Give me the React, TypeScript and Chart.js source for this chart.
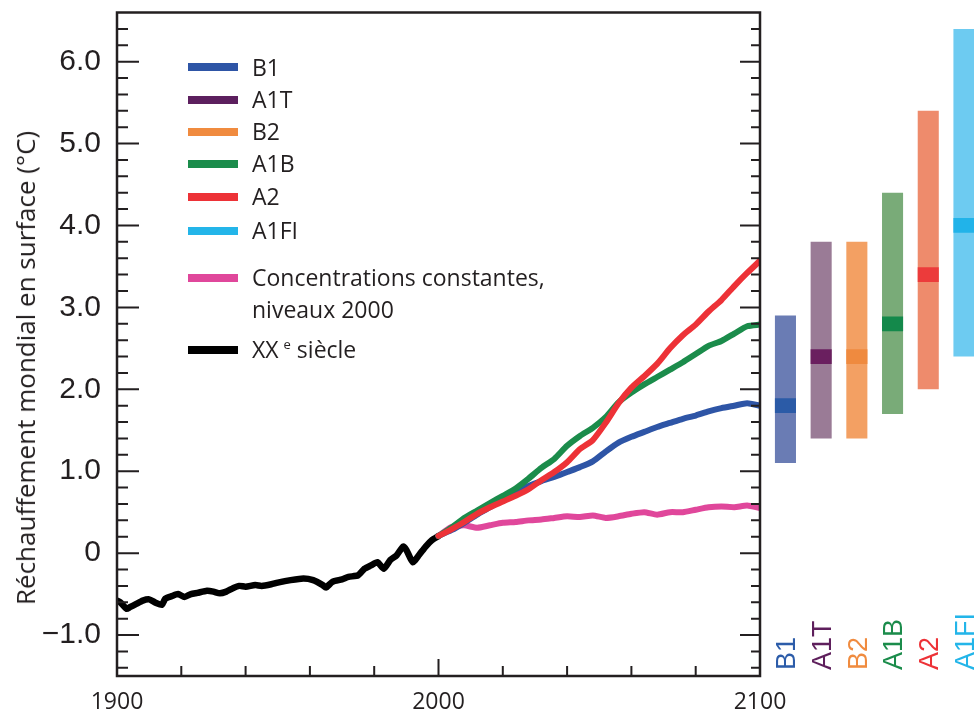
import React, { useEffect, useRef } from "react";
import { Chart, registerables } from "chart.js";

Chart.register(...registerables);

// ---------- data ----------
const histYears = [1900, 1901, 1903, 1904, 1906, 1908, 1910, 1912, 1914, 1915, 1917, 1919, 1921, 1923, 1925, 1928, 1930, 1932, 1934, 1936, 1938, 1940, 1943, 1945, 1948, 1950, 1954, 1958, 1961, 1964, 1965, 1967, 1970, 1972, 1975, 1977, 1979, 1981, 1983, 1985, 1987, 1989, 1990, 1992, 1994, 1996, 1998, 2000];
const histValues = [-0.58, -0.6, -0.68, -0.66, -0.62, -0.58, -0.565, -0.605, -0.63, -0.555, -0.525, -0.5, -0.535, -0.5, -0.485, -0.46, -0.47, -0.49, -0.47, -0.43, -0.4, -0.41, -0.39, -0.4, -0.38, -0.36, -0.33, -0.31, -0.33, -0.39, -0.42, -0.35, -0.32, -0.29, -0.27, -0.19, -0.15, -0.11, -0.19, -0.085, -0.025, 0.08, 0.04, -0.11, -0.02, 0.08, 0.16, 0.21];

const projYears = [2000, 2004, 2008, 2012, 2016, 2020, 2024, 2028, 2032, 2036, 2040, 2044, 2048, 2052, 2056, 2060, 2064, 2068, 2072, 2076, 2080, 2084, 2088, 2092, 2096, 2100];
const a2Values = [0.21, 0.29, 0.38, 0.48, 0.56, 0.63, 0.7, 0.78, 0.89, 0.99, 1.11, 1.27, 1.38, 1.59, 1.83, 2.02, 2.16, 2.31, 2.5, 2.66, 2.79, 2.95, 3.09, 3.26, 3.42, 3.57];
const a1bValues = [0.21, 0.31, 0.43, 0.52, 0.61, 0.7, 0.79, 0.91, 1.04, 1.15, 1.31, 1.43, 1.53, 1.66, 1.84, 1.96, 2.06, 2.15, 2.24, 2.33, 2.43, 2.53, 2.59, 2.68, 2.77, 2.79];
const b1Values = [0.21, 0.28, 0.37, 0.47, 0.56, 0.66, 0.75, 0.82, 0.88, 0.93, 0.99, 1.05, 1.12, 1.24, 1.35, 1.42, 1.48, 1.54, 1.59, 1.64, 1.68, 1.73, 1.77, 1.8, 1.83, 1.8];
const commitValues = [0.21, 0.32, 0.34, 0.31, 0.34, 0.37, 0.38, 0.4, 0.41, 0.43, 0.45, 0.44, 0.46, 0.43, 0.45, 0.48, 0.5, 0.47, 0.5, 0.5, 0.53, 0.56, 0.57, 0.56, 0.58, 0.55];

const scenarioNames = ["B1", "A1T", "B2", "A1B", "A2", "A1FI"];
const scenarioBest = [1.8, 2.4, 2.4, 2.8, 3.4, 4.0];
const scenarioLow = [1.1, 1.4, 1.4, 1.7, 2.0, 2.4];
const scenarioHigh = [2.9, 3.8, 3.8, 4.4, 5.4, 6.4];

const yLabelValues = [-1, 0, 1, 2, 3, 4, 5, 6];
const xLabelYears = [1900, 2000, 2100];

const commitLabel = ["Concentrations constantes,", "niveaux 2000"];
const histLabel = ["XX", "e", " siècle"];
const yTitle = "Réchauffement mondial en surface (°C)";

// ---------- styles ----------
const INK = "#231f20";
const lineColors = ["#2e55a6", "#5c1f5e", "#f08b3f", "#1b8c4b", "#ed3237", "#23b5e9"];
const rangeColors = ["#6a7cb4", "#9a7b96", "#f3a063", "#79ab78", "#ee8b6c", "#6dcbf1"];
const medianColors = ["#2b5ba7", "#6a1f5f", "#ef8a3f", "#14894b", "#ec3b3b", "#21b3e9"];
const labelColors = ["#2c5ca9", "#5e1f5c", "#f08b3f", "#1b8c4b", "#ed3237", "#23b5e9"];
const COMMIT_COLOR = "#e0479b";
const HIST_COLOR = "#000000";
const MED_HALF = 0.09;

const Y_MIN = -1.5;
const Y_MAX = 6.6;

const pts = (xs: number[], ys: number[]) => xs.map((x, i) => ({ x, y: ys[i] }));

const fmtY = (v: number) => {
  if (v === 0) return "0";
  const s = Math.abs(v).toFixed(1);
  return v < 0 ? "\u2212" + s : s;
};

export default function App() {
  const mainRef = useRef<HTMLCanvasElement | null>(null);
  const barRef = useRef<HTMLCanvasElement | null>(null);

  useEffect(() => {
    if (!mainRef.current || !barRef.current) return;

    const framePlugin = {
      id: "frameTicks",
      afterDatasetsDraw(chart: any) {
        const { ctx, chartArea: a, scales } = chart;
        const x = scales.x;
        const y = scales.y;
        ctx.save();
        ctx.strokeStyle = INK;
        ctx.lineWidth = 2;
        ctx.beginPath();
        y.ticks.forEach((t: any) => {
          const v = t.value;
          if (Math.abs(v * 5 - Math.round(v * 5)) > 1e-6) return;
          const py = y.getPixelForValue(v);
          if (py <= a.top + 1 || py >= a.bottom - 1) return;
          const major = Math.abs(v - Math.round(v)) < 1e-6;
          ctx.moveTo(a.left, py);
          ctx.lineTo(a.left + (major ? 22 : 11), py);
          ctx.moveTo(a.right, py);
          ctx.lineTo(a.right - (major ? 20 : 9), py);
        });
        x.ticks.forEach((t: any) => {
          const px = x.getPixelForValue(t.value);
          if (px <= a.left + 1 || px >= a.right - 1) return;
          const major = Math.round(t.value) % 100 === 0;
          ctx.moveTo(px, a.bottom);
          ctx.lineTo(px, a.bottom - (major ? 17 : 10));
        });
        ctx.stroke();
        ctx.lineWidth = 2.5;
        ctx.strokeRect(a.left, a.top, a.right - a.left, a.bottom - a.top);
        ctx.restore();
      },
    };

    const lineDs = (label: string, data: any[], color: string, width: number) => ({
      label,
      data,
      borderColor: color,
      backgroundColor: color,
      borderWidth: width,
      pointRadius: 0,
      tension: 0.2,
      borderCapStyle: "round" as const,
      borderJoinStyle: "round" as const,
      fill: false,
    });

    const main = new Chart(mainRef.current, {
      type: "line",
      data: {
        datasets: [
          lineDs("A2", pts(projYears, a2Values), lineColors[4], 6),
          lineDs("A1B", pts(projYears, a1bValues), lineColors[3], 6),
          lineDs("B1", pts(projYears, b1Values), lineColors[0], 6),
          lineDs("Concentrations constantes, niveaux 2000", pts(projYears, commitValues), COMMIT_COLOR, 6),
          lineDs("XX e siècle", pts(histYears, histValues), HIST_COLOR, 6.5),
        ],
      },
      options: {
        responsive: false,
        animation: false,
        events: [],
        layout: { padding: { top: 12.5, right: 40, left: 0, bottom: 0 } },
        plugins: { legend: { display: false }, tooltip: { enabled: false } },
        scales: {
          x: {
            type: "linear",
            min: 1900,
            max: 2100,
            grid: { display: false, drawTicks: false },
            border: { display: false },
            ticks: {
              stepSize: 20,
              autoSkip: false,
              maxRotation: 0,
              includeBounds: false,
              padding: 13,
              color: INK,
              font: { family: "'Open Sans', sans-serif", size: 23 },
              callback: (v: any) => (xLabelYears.includes(Math.round(Number(v))) ? String(Math.round(Number(v))) : ""),
            },
            afterFit: (s: any) => {
              s.height = 35;
              s.paddingLeft = 0;
              s.paddingRight = 0;
            },
          },
          y: {
            type: "linear",
            min: Y_MIN,
            max: Y_MAX,
            grid: { display: false, drawTicks: false },
            border: { display: false },
            ticks: {
              stepSize: 0.2,
              autoSkip: false,
              includeBounds: false,
              padding: 16,
              color: INK,
              font: { family: "'Liberation Sans', Arial, sans-serif", size: 30 },
              callback: (v: any) => {
                const n = Number(v);
                const r = Math.round(n);
                return Math.abs(n - r) < 1e-6 && yLabelValues.includes(r) ? fmtY(r) : "";
              },
            },
            afterFit: (s: any) => {
              s.width = 117;
              s.paddingTop = 0;
              s.paddingBottom = 0;
            },
          },
        },
      },
      plugins: [framePlugin],
    });

    const labelPlugin = {
      id: "scenarioLabels",
      afterDraw(chart: any) {
        const { ctx, scales, chartArea } = chart;
        const x = scales.x;
        const fs = 27;
        ctx.save();
        ctx.font = `${fs}px 'Liberation Sans', Arial, sans-serif`;
        ctx.textAlign = "left";
        ctx.textBaseline = "alphabetic";
        scenarioNames.forEach((name, i) => {
          const cx = x.getPixelForValue(i);
          ctx.save();
          ctx.translate(cx + fs * 0.358, chartArea.bottom - 6);
          ctx.rotate(-Math.PI / 2);
          ctx.fillStyle = labelColors[i];
          ctx.fillText(name, 0, 0);
          ctx.restore();
        });
        ctx.restore();
      },
    };

    const bars = new Chart(barRef.current, {
      type: "bar",
      data: {
        labels: scenarioNames,
        datasets: [
          {
            label: "best",
            data: scenarioBest.map((b) => [b - MED_HALF, b + MED_HALF]) as any,
            backgroundColor: medianColors,
            grouped: false,
            barPercentage: 0.59,
            categoryPercentage: 1,
            order: 0,
          },
          {
            label: "range",
            data: scenarioLow.map((l, i) => [l, scenarioHigh[i]]) as any,
            backgroundColor: rangeColors,
            grouped: false,
            barPercentage: 0.59,
            categoryPercentage: 1,
            order: 1,
          },
        ],
      },
      options: {
        responsive: false,
        animation: false,
        events: [],
        layout: { padding: { left: 7.6, right: 8.2, top: 12.5, bottom: 35 } },
        plugins: { legend: { display: false }, tooltip: { enabled: false } },
        scales: {
          x: { display: false },
          y: { display: false, min: Y_MIN, max: Y_MAX },
        },
      },
      plugins: [labelPlugin],
    });

    return () => {
      main.destroy();
      bars.destroy();
    };
  }, []);

  const legendFont: React.CSSProperties = {
    position: "absolute",
    left: 252,
    fontFamily: "'Open Sans', sans-serif",
    fontSize: 23,
    lineHeight: "32px",
    color: INK,
    whiteSpace: "nowrap",
  };
  const swatch = (cy: number, color: string): React.CSSProperties => ({
    position: "absolute",
    left: 188,
    top: cy - 4,
    width: 50,
    height: 8,
    background: color,
  });
  const rowCenters = [67.3, 99.5, 131.8, 163.5, 196.7, 230.5];
  const commitCenter = 277.7;
  const histCenter = 350;

  return (
    <div
      style={{
        position: "absolute",
        left: 0,
        top: 0,
        width: 974,
        height: 711,
        overflow: "hidden",
        background: "#ffffff",
      }}
    >
      <canvas ref={mainRef} width={800} height={711} style={{ position: "absolute", left: 0, top: 0 }} />
      <canvas ref={barRef} width={230} height={711} style={{ position: "absolute", left: 760, top: 0 }} />
      <div
        style={{
          position: "absolute",
          left: 25,
          top: 368,
          transform: "translate(-50%, -50%) rotate(-90deg)",
          fontFamily: "'Open Sans', sans-serif",
          fontSize: 26,
          color: INK,
          whiteSpace: "nowrap",
          lineHeight: "30px",
        }}
      >
        {yTitle}
      </div>
      {scenarioNames.map((n, i) => (
        <React.Fragment key={n}>
          <div style={swatch(rowCenters[i], lineColors[i])} />
          <div style={{ ...legendFont, top: rowCenters[i] - 16.7 }}>{n}</div>
        </React.Fragment>
      ))}
      <div style={swatch(commitCenter, COMMIT_COLOR)} />
      <div style={{ ...legendFont, top: commitCenter - 16.7 }}>
        {commitLabel[0]}
        <br />
        {commitLabel[1]}
      </div>
      <div style={swatch(histCenter, HIST_COLOR)} />
      <div style={{ ...legendFont, top: histCenter - 16.7 }}>
        {histLabel[0]}
        <span style={{ fontSize: 13, position: "relative", top: -9, marginLeft: 5 }}>{histLabel[1]}</span>
        {histLabel[2]}
      </div>
    </div>
  );
}
